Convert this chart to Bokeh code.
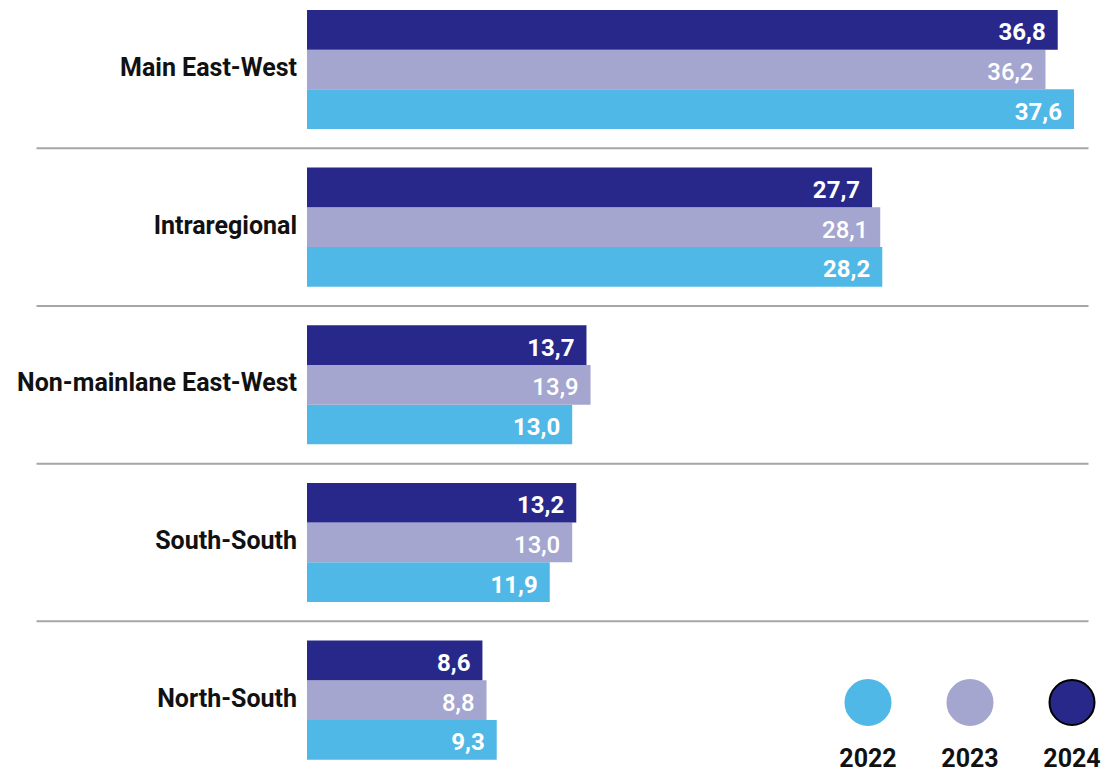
from bokeh.plotting import figure
from bokeh.models import Range1d, ColumnDataSource
from bokeh.core.properties import value
from bokeh.embed import file_html
from bokeh.resources import INLINE

# ---- data ----
categories = ["Main East-West", "Intraregional", "Non-mainlane East-West",
              "South-South", "North-South"]
years = ["2022", "2023", "2024"]
values_2022 = [37.6, 28.2, 13.0, 11.9, 9.3]
values_2023 = [36.2, 28.1, 13.9, 13.0, 8.8]
values_2024 = [36.8, 27.7, 13.7, 13.2, 8.6]
series = {"2022": values_2022, "2023": values_2023, "2024": values_2024}
colors = {"2022": "#4fb8e6", "2023": "#a5a6cf", "2024": "#27288a"}

# ---- layout constants (pixels) ----
W, H = 1102, 778
X0 = 306.5          # x pixel of value 0
PXU = 20.4          # pixels per unit
G0, GS = 69.0, 157.65   # first group centre, group spacing (px)
BH = 39.7           # bar height (px)
FONT = "Roboto"

def px_to_x(px):
    return (px - X0) / PXU

p = figure(width=W, height=H,
           x_range=Range1d(px_to_x(0), px_to_x(W)),
           y_range=Range1d(H, 0),
           output_backend="svg", toolbar_location=None,
           x_axis_location=None, y_axis_location=None,
           min_border=0, outline_line_color=None,
           background_fill_color="white", border_fill_color="white")
p.grid.visible = False

centers = [G0 + GS * i for i in range(len(categories))]
offsets = {"2024": -1, "2023": 0, "2022": 1}
fonts = {"2024": FONT, "2023": "Roboto Medium", "2022": FONT}
weights = {"2024": "bold", "2023": "normal", "2022": "bold"}

for yr in years:
    vals = series[yr]
    ys = [c + offsets[yr] * BH for c in centers]
    src = ColumnDataSource(dict(y=ys, right=vals,
                                label=[f"{v:.1f}".replace(".", ",") for v in vals]))
    p.hbar(y="y", left=0, right="right", height=BH, source=src,
           fill_color=colors[yr], line_color=None)
    p.text(x="right", y="y", text="label", source=src,
           x_offset=-12, y_offset=2,
           text_align="right", text_baseline="middle",
           text_color="white", text_font=value(fonts[yr]),
           text_font_size="24px", text_font_style=weights[yr])

# category labels
cat_src = ColumnDataSource(dict(x=[px_to_x(X0 - 10)] * len(categories),
                                y=centers, text=categories))
p.text(x="x", y="y", text="text", source=cat_src, y_offset=-2,
       text_align="right", text_baseline="middle",
       text_color="#111111", text_font=value(FONT),
       text_font_size="25px", text_font_style="bold")

# separators between groups
seps = [(centers[i] + centers[i + 1]) / 2 for i in range(len(centers) - 1)]
p.segment(x0=[px_to_x(36)] * len(seps), x1=[px_to_x(1088)] * len(seps),
          y0=seps, y1=seps, line_color="#a6a6a6", line_width=2)

# legend
leg_px = [867.5 + 102 * i for i in range(len(years))]
leg_src = ColumnDataSource(dict(
    x=[px_to_x(v) for v in leg_px], y=[702] * len(years),
    ty=[757] * len(years), text=years,
    fill=[colors[y] for y in years],
    line=[colors["2022"], colors["2023"], "#000000"]))
p.scatter(x="x", y="y", source=leg_src, marker="circle", size=45,
          fill_color="fill", line_color="line", line_width=2)
p.text(x="x", y="ty", text="text", source=leg_src,
       text_align="center", text_baseline="middle",
       text_color="#111111", text_font=value(FONT),
       text_font_size="25px", text_font_style="bold")

open("out.html", "w").write(file_html(p, INLINE))
